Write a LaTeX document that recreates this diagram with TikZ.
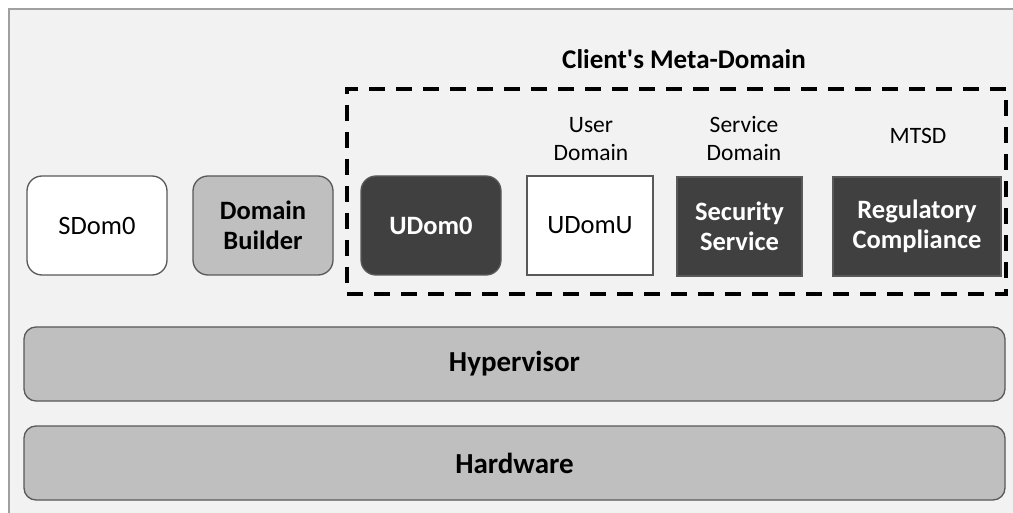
\documentclass[tikz,border=0pt]{standalone}
\usepackage{fontspec}
\setmainfont{Carlito}
\definecolor{panel}{HTML}{F2F2F2}
\definecolor{panelline}{HTML}{A0A0A0}
\definecolor{boxline}{HTML}{595959}
\definecolor{midgray}{HTML}{BFBFBF}
\definecolor{darkgray}{HTML}{404040}
\begin{document}
\begin{tikzpicture}[x=1pt,y=-1pt,
  every node/.style={inner sep=0pt, outer sep=0pt, align=center},
  dombox/.style={draw=boxline, line width=1.3pt, minimum width=#1, minimum height=99pt,
    font=\fontsize{26.5}{30}\selectfont},
  roundbox/.style={dombox=#1, rounded corners=15pt},
  lightdom/.style={fill=white, text=black},
  builddom/.style={fill=midgray, font=\fontsize{26.5}{30}\selectfont\bfseries},
  darkdom/.style={fill=darkgray, text=white, font=\fontsize{26.5}{30}\selectfont\bfseries},
  layerbar/.style={draw=boxline, line width=1.3pt, fill=midgray, rounded corners=12pt,
    minimum width=981pt, minimum height=74pt, font=\fontsize{29}{32}\selectfont\bfseries},
  toplabel/.style={font=\fontsize{23.5}{28}\selectfont},
  metabox/.style={draw=black, line width=4pt, dash pattern=on 16pt off 11pt}
]
\useasboundingbox (0,0) rectangle (1013,513);
% panel background with its top and left edges
\fill[panel] (9,9) rectangle (1013,513);
\draw[panelline, line width=1.2pt] (9,513) -- (9,9) -- (1013,9);

% client's meta-domain
\node[metabox, minimum width=659pt, minimum height=205pt] (meta) at (676.5,191.5) {};
\node[font=\fontsize{27}{30}\selectfont\bfseries] (metatitle) at (684,59) {Client\textquotesingle s Meta-Domain};

% domains
\node[roundbox=140pt, lightdom] (sdom) at (97,225.5) {SDom0};
\node[roundbox=140pt, builddom] (builder) at (263,225.5) {Domain\\Builder};
\node[roundbox=140pt, darkdom] (udom0) at (431,225.5) {UDom0};
\node[dombox=126pt, lightdom] (udomu) at (590,225.5) {UDomU};
\node[dombox=125pt, darkdom] (sec) at (739.5,226.5) {Security\\Service};
\node[dombox=168pt, darkdom] (reg) at (917,226.5) {Regulatory\\Compliance};

% labels above the domains
\node[toplabel] (userlbl) at (591,139) {User\\Domain};
\node[toplabel] (servlbl) at (744,139) {Service\\Domain};
\node[toplabel] (mtsdlbl) at (918,136) {MTSD};

% lower layers
\node[layerbar] (hyp) at (514.5,364) {\raisebox{-2pt}{Hypervisor}};
\node[layerbar] (hw) at (514.5,463) {Hardware};
\end{tikzpicture}
\end{document}
